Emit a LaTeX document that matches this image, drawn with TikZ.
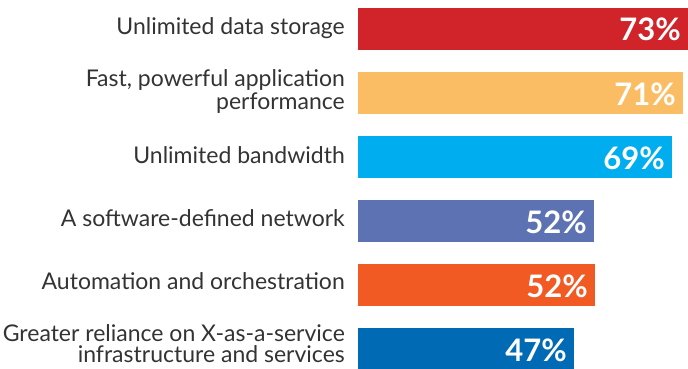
\documentclass[tikz,border=0pt]{standalone}
\usepackage{fontspec}
\setmainfont{Lato}
\definecolor{cRed}{HTML}{D0232A}
\definecolor{cYel}{HTML}{FBBD63}
\definecolor{cCya}{HTML}{00AEEF}
\definecolor{cPur}{HTML}{5C72B2}
\definecolor{cOra}{HTML}{F15A22}
\definecolor{cBlu}{HTML}{006AB4}
\definecolor{txt}{HTML}{333333}
\newcommand\twolines[3]{\vtop{\baselineskip=#1\halign{\hfil##\cr #2\cr #3\cr}}}
\begin{document}
\begin{tikzpicture}[x=1pt,y=-1pt,
  pct/.style={text=white, font=\fontsize{31}{31}\selectfont\bfseries, anchor=base east, inner sep=0pt},
  lab/.style={text=txt, font=\fontsize{23}{24}\selectfont, anchor=base east, inner sep=0pt}]
\useasboundingbox (0,0) rectangle (688,369);
\foreach \n/\y/\xe/\c/\p in {a/8/688/cRed/73,b/72/683/cYel/71,c/136/672/cCya/69,d/200/594/cPur/52,e/264/595/cOra/52,f/328/574/cBlu/47}{
  \fill[\c] (358,\y) rectangle (\xe,\y+42);
  \node[pct] (p\n) at (\xe-7,\y+33) {\p\%};
}
\node[lab] (la) at (345,34.5) {Unlimited data storage};
\node[lab] (lb) at (345,86) {\twolines{24pt}{Fast, powerful application}{performance}};
\node[lab] (lc) at (345,163) {Unlimited bandwidth};
\node[lab] (ld) at (345,226) {A software-defined network};
\node[lab] (le) at (345,289) {Automation and orchestration};
\node[lab] (lf) at (345,341) {\twolines{21pt}{Greater reliance on X-as-a-service}{infrastructure and services}};
\end{tikzpicture}
\end{document}
